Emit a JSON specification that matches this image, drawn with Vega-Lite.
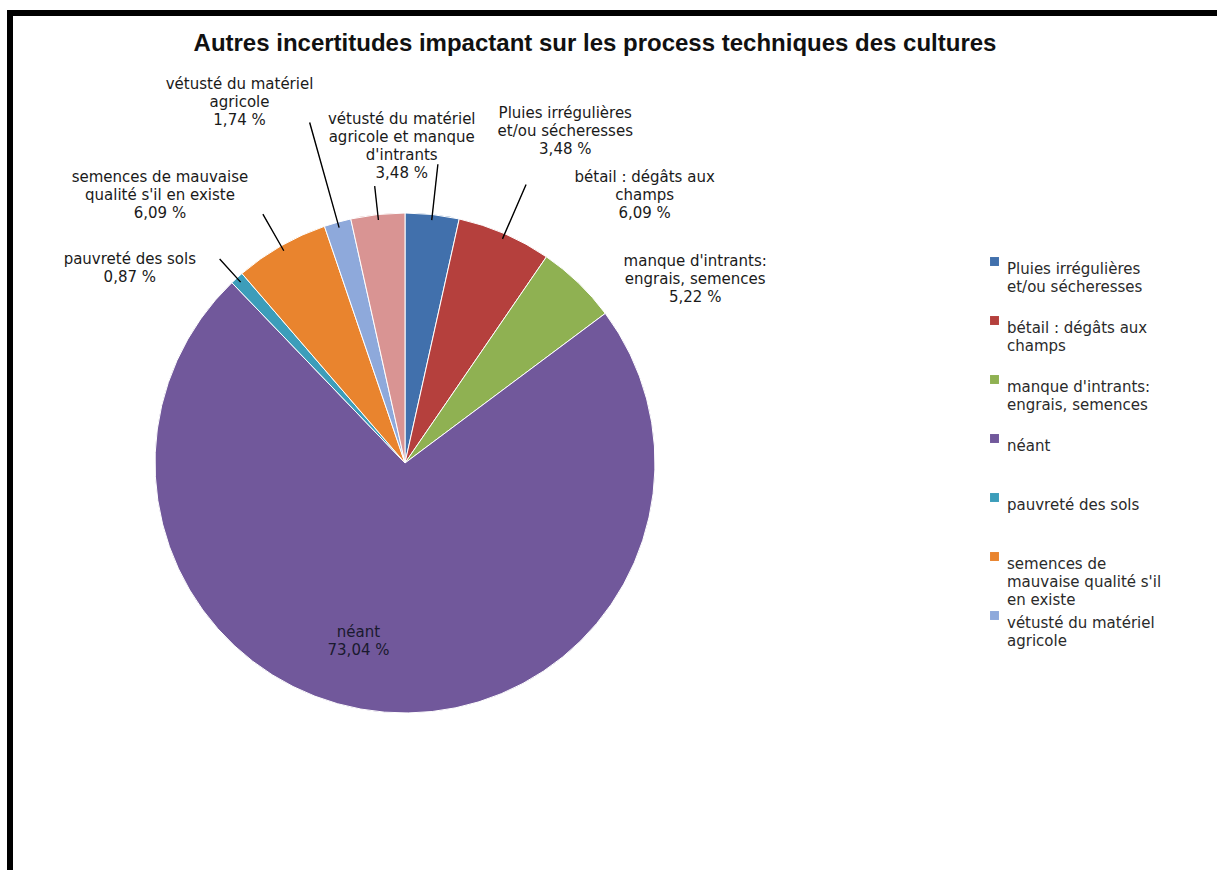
{
  "$schema": "https://vega.github.io/schema/vega-lite/v6.json",
  "width": 1240,
  "height": 880,
  "autosize": {"type": "none"},
  "padding": {"left": 10, "top": 13, "right": -33, "bottom": -23},
  "background": "white",
  "view": {"stroke": "black", "strokeWidth": 6, "fill": "white"},
  "config": {"style": {"guide-label": {"lineHeight": 18}}},
  "title": {
    "text": "Autres incertitudes impactant sur les process techniques des cultures",
    "font": "Liberation Sans",
    "fontSize": 24,
    "fontWeight": "bold",
    "color": "#111111",
    "anchor": "middle",
    "frame": "group",
    "baseline": "middle",
    "offset": 0,
    "dx": -35,
    "dy": 55
  },
  "data": {
    "values": [
      {"o": 1, "cat": "Pluies irrégulières et/ou sécheresses", "v": 3.48, "lbl": "Pluies irrégulières|et/ou sécheresses|3,48 %"},
      {"o": 2, "cat": "bétail : dégâts aux champs", "v": 6.09, "lbl": "bétail : dégâts aux|champs|6,09 %"},
      {"o": 3, "cat": "manque d'intrants: engrais, semences", "v": 5.22, "lbl": "manque d'intrants:|engrais, semences|5,22 %"},
      {"o": 4, "cat": "néant", "v": 73.04, "lbl": "néant|73,04 %"},
      {"o": 5, "cat": "pauvreté des sols", "v": 0.87, "lbl": "pauvreté des sols|0,87 %"},
      {"o": 6, "cat": "semences de mauvaise qualité s'il en existe", "v": 6.09, "lbl": "semences de mauvaise|qualité s'il en existe|6,09 %"},
      {"o": 7, "cat": "vétusté du matériel agricole", "v": 1.74, "lbl": "vétusté du matériel|agricole|1,74 %"},
      {"o": 8, "cat": "vétusté du matériel agricole et manque d'intrants", "v": 3.48, "lbl": "vétusté du matériel|agricole et manque|d'intrants|3,48 %"}
    ]
  },
  "transform": [
    {"window": [{"op": "sum", "field": "v", "as": "cum"}], "sort": [{"field": "o"}], "frame": [null, 0]},
    {"calculate": "datum.cum - datum.v / 2", "as": "mid"},
    {"calculate": "datum.mid + 0.01", "as": "mid2"}
  ],
  "layer": [
    {
      "mark": {"type": "arc", "x": 395, "y": 450, "radius": 250, "stroke": "white", "strokeWidth": 1},
      "encoding": {
        "theta": {"field": "v", "type": "quantitative", "stack": true, "scale": {"domain": [0, 100.01]}},
        "order": {"field": "o", "type": "quantitative"},
        "color": {
          "field": "cat",
          "type": "nominal",
          "scale": {
            "domain": ["Pluies irrégulières et/ou sécheresses", "bétail : dégâts aux champs", "manque d'intrants: engrais, semences", "néant", "pauvreté des sols", "semences de mauvaise qualité s'il en existe", "vétusté du matériel agricole", "vétusté du matériel agricole et manque d'intrants"],
            "range": ["#4170AC", "#B5403D", "#8FB152", "#71589B", "#3C9DBA", "#E9842E", "#8EA9DB", "#D99493"]
          },
          "legend": {
            "orient": "none",
            "legendX": 977,
            "legendY": 241,
            "title": null,
            "padding": 0,
            "values": ["Pluies irrégulières et/ou sécheresses", "bétail : dégâts aux champs", "manque d'intrants: engrais, semences", "néant", "pauvreté des sols", "semences de mauvaise qualité s'il en existe", "vétusté du matériel agricole"],
            "symbolType": "square",
            "symbolSize": 80,
            "symbolStrokeWidth": 0,
            "labelFont": "DejaVu Sans",
            "labelFontSize": 15,
            "labelColor": "#2a2a2a",
            "labelLimit": 0,
            "labelOffset": 5,
            "labelBaseline": "top",
            "gridAlign": "all",
            "rowPadding": 0,
            "labelExpr": "datum.label == 'Pluies irrégulières et/ou sécheresses' ? ['Pluies irrégulières', 'et/ou sécheresses'] : datum.label == 'bétail : dégâts aux champs' ? ['bétail : dégâts aux', 'champs'] : indexof(datum.label, 'manque d') == 0 ? [\"manque d'intrants:\", 'engrais, semences'] : indexof(datum.label, 'semences de') == 0 ? ['semences de', \"mauvaise qualité s'il\", 'en existe'] : datum.label == 'vétusté du matériel agricole' ? ['vétusté du matériel', 'agricole'] : datum.label"
          }
        }
      }
    },
    {
      "transform": [{"filter": "datum.o == 1"}],
      "mark": {"type": "arc", "x": 395, "y": 450, "radius": 300, "radius2": 245, "fill": "black", "stroke": "black", "strokeWidth": 1.2},
      "encoding": {"theta": {"field": "mid", "type": "quantitative", "stack": null}, "theta2": {"field": "mid2"}}
    },
    {
      "transform": [{"filter": "datum.o == 2"}],
      "mark": {"type": "arc", "x": 395, "y": 450, "radius": 303, "radius2": 245, "fill": "black", "stroke": "black", "strokeWidth": 1.2},
      "encoding": {"theta": {"field": "mid", "type": "quantitative", "stack": null}, "theta2": {"field": "mid2"}}
    },
    {
      "transform": [{"filter": "datum.o == 5"}],
      "mark": {"type": "arc", "x": 395, "y": 450, "radius": 275, "radius2": 245, "fill": "black", "stroke": "black", "strokeWidth": 1.2},
      "encoding": {"theta": {"field": "mid", "type": "quantitative", "stack": null}, "theta2": {"field": "mid2"}}
    },
    {
      "transform": [{"filter": "datum.o == 6"}],
      "mark": {"type": "arc", "x": 395, "y": 450, "radius": 286, "radius2": 245, "fill": "black", "stroke": "black", "strokeWidth": 1.2},
      "encoding": {"theta": {"field": "mid", "type": "quantitative", "stack": null}, "theta2": {"field": "mid2"}}
    },
    {
      "transform": [{"filter": "datum.o == 7"}],
      "mark": {"type": "arc", "x": 395, "y": 450, "radius": 353, "radius2": 245, "fill": "black", "stroke": "black", "strokeWidth": 1.2},
      "encoding": {"theta": {"field": "mid", "type": "quantitative", "stack": null}, "theta2": {"field": "mid2"}}
    },
    {
      "transform": [{"filter": "datum.o == 8"}],
      "mark": {"type": "arc", "x": 395, "y": 450, "radius": 278, "radius2": 245, "fill": "black", "stroke": "black", "strokeWidth": 1.2},
      "encoding": {"theta": {"field": "mid", "type": "quantitative", "stack": null}, "theta2": {"field": "mid2"}}
    },
    {
      "transform": [{"filter": "datum.o == 1"}],
      "mark": {"type": "text", "x": 395, "y": 450, "radius": 250, "dx": 133, "dy": -101, "lineBreak": "|", "font": "DejaVu Sans", "fontSize": 15, "lineHeight": 18, "align": "center", "baseline": "middle", "color": "#1a1a1a"},
      "encoding": {"theta": {"field": "mid", "type": "quantitative", "stack": null}, "text": {"field": "lbl"}}
    },
    {
      "transform": [{"filter": "datum.o == 2"}],
      "mark": {"type": "text", "x": 395, "y": 450, "radius": 250, "dx": 140, "dy": -57, "lineBreak": "|", "font": "DejaVu Sans", "fontSize": 15, "lineHeight": 18, "align": "center", "baseline": "middle", "color": "#1a1a1a"},
      "encoding": {"theta": {"field": "mid", "type": "quantitative", "stack": null}, "text": {"field": "lbl"}}
    },
    {
      "transform": [{"filter": "datum.o == 3"}],
      "mark": {"type": "text", "x": 395, "y": 450, "radius": 250, "dx": 117, "dy": -22, "lineBreak": "|", "font": "DejaVu Sans", "fontSize": 15, "lineHeight": 18, "align": "center", "baseline": "middle", "color": "#1a1a1a"},
      "encoding": {"theta": {"field": "mid", "type": "quantitative", "stack": null}, "text": {"field": "lbl"}}
    },
    {
      "transform": [{"filter": "datum.o == 4"}],
      "mark": {"type": "text", "x": 395, "y": 450, "radius": 177, "dx": -32, "dy": -7, "lineBreak": "|", "font": "DejaVu Sans", "fontSize": 15, "lineHeight": 18, "align": "center", "baseline": "middle", "color": "#1a1a2e"},
      "encoding": {"theta": {"field": "mid", "type": "quantitative", "stack": null}, "text": {"field": "lbl"}}
    },
    {
      "transform": [{"filter": "datum.o == 5"}],
      "mark": {"type": "text", "x": 395, "y": 450, "radius": 250, "dx": -107, "dy": -19, "lineBreak": "|", "font": "DejaVu Sans", "fontSize": 15, "lineHeight": 18, "align": "center", "baseline": "middle", "color": "#1a1a1a"},
      "encoding": {"theta": {"field": "mid", "type": "quantitative", "stack": null}, "text": {"field": "lbl"}}
    },
    {
      "transform": [{"filter": "datum.o == 6"}],
      "mark": {"type": "text", "x": 395, "y": 450, "radius": 250, "dx": -121, "dy": -69, "lineBreak": "|", "font": "DejaVu Sans", "fontSize": 15, "lineHeight": 18, "align": "center", "baseline": "middle", "color": "#1a1a1a"},
      "encoding": {"theta": {"field": "mid", "type": "quantitative", "stack": null}, "text": {"field": "lbl"}}
    },
    {
      "transform": [{"filter": "datum.o == 7"}],
      "mark": {"type": "text", "x": 395, "y": 450, "radius": 250, "dx": -98, "dy": -138, "lineBreak": "|", "font": "DejaVu Sans", "fontSize": 15, "lineHeight": 18, "align": "center", "baseline": "middle", "color": "#1a1a1a"},
      "encoding": {"theta": {"field": "mid", "type": "quantitative", "stack": null}, "text": {"field": "lbl"}}
    },
    {
      "transform": [{"filter": "datum.o == 8"}],
      "mark": {"type": "text", "x": 395, "y": 450, "radius": 250, "dx": 24, "dy": -95, "lineBreak": "|", "font": "DejaVu Sans", "fontSize": 15, "lineHeight": 18, "align": "center", "baseline": "middle", "color": "#1a1a1a"},
      "encoding": {"theta": {"field": "mid", "type": "quantitative", "stack": null}, "text": {"field": "lbl"}}
    }
  ]
}
